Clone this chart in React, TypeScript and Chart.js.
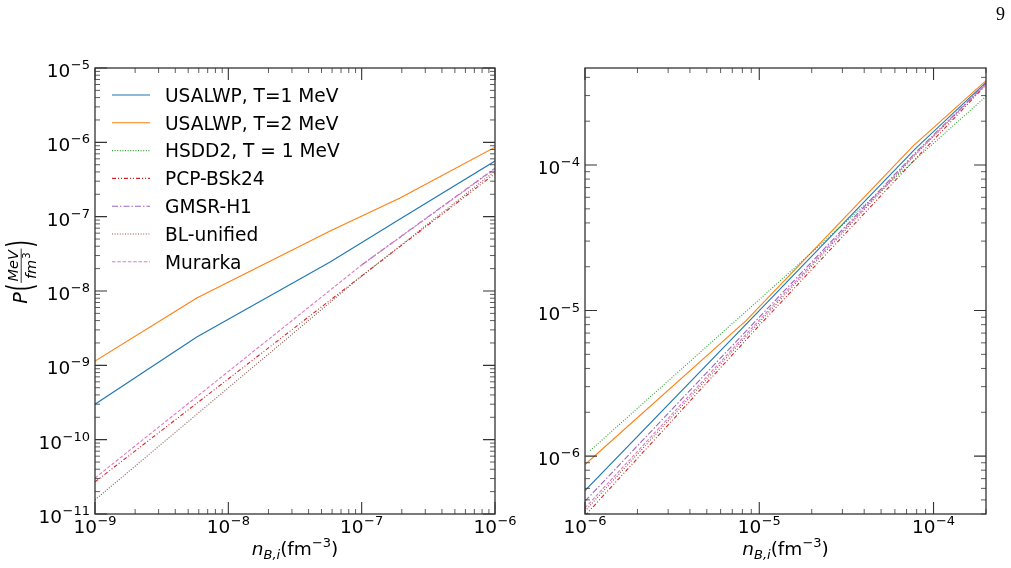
import React, { useEffect, useRef } from "react";
import { Chart, registerables } from "chart.js";

Chart.register(...registerables);

const FONT = "'DejaVu Sans', sans-serif";

// ---------- series meta ----------
const seriesNames = [
  "USALWP, T=1 MeV",
  "USALWP, T=2 MeV",
  "HSDD2, T = 1 MeV",
  "PCP-BSk24",
  "GMSR-H1",
  "BL-unified",
  "Murarka",
];
const seriesColors = ["#1f77b4", "#ff7f0e", "#2ca02c", "#d62728", "#9467bd", "#8c564b", "#e377c2"];
const seriesDashes = [[], [], [1, 1.6], [4, 2, 1, 2, 1, 2], [6, 2, 1.5, 2], [1, 1.6], [3.5, 1.8]];

// ---------- left panel data ----------
const leftUsal1X = [1e-9, 5.8e-9, 5.8e-8, 1.94e-7, 1e-6];
const leftUsal1Y = [3.0e-10, 2.4e-9, 2.45e-8, 9.3e-8, 5.6e-7];
const leftUsal2X = [1e-9, 5.8e-9, 5.8e-8, 1.94e-7, 1e-6];
const leftUsal2Y = [1.14e-9, 8.05e-9, 6.4e-8, 1.78e-7, 8.6e-7];
const leftHsddX: number[] = [];
const leftHsddY: number[] = [];
const leftPcpX = [1e-9, 6.5e-8, 1e-6];
const leftPcpY = [2.7e-11, 8.8e-9, 3.8e-7];
const leftGmsrX = [1e-7, 1e-6];
const leftGmsrY = [2.24e-8, 4.5e-7];
const leftBlX = [1e-9, 9.2e-8, 1e-6];
const leftBlY = [1.55e-11, 1.41e-8, 4.1e-7];
const leftMurX = [1e-9, 1e-7, 1e-6];
const leftMurY = [3.05e-11, 2.24e-8, 4.4e-7];

// ---------- right panel data ----------
const rightUsal1X = [1e-6, 1e-5, 7.9e-5, 2e-4];
const rightUsal1Y = [5.8e-7, 1.0e-5, 1.3e-4, 3.7e-4];
const rightUsal2X = [1e-6, 8.4e-6, 2.63e-5, 7.67e-5, 2e-4];
const rightUsal2Y = [8.75e-7, 8.53e-6, 3.55e-5, 1.36e-4, 3.8e-4];
const rightHsddX = [1.07e-6, 1e-5, 1e-4, 2e-4];
const rightHsddY = [1.09e-6, 1.19e-5, 1.41e-4, 2.96e-4];
const rightPcpX = [1e-6, 1e-5, 8.2e-5, 2e-4];
const rightPcpY = [3.9e-7, 7.9e-6, 1.16e-4, 3.55e-4];
const rightGmsrX = [1e-6, 1e-5, 7.9e-5, 2e-4];
const rightGmsrY = [4.9e-7, 9.0e-6, 1.22e-4, 3.63e-4];
const rightBlX = [1e-6, 1e-5, 8e-5, 2e-4];
const rightBlY = [4.2e-7, 8.3e-6, 1.2e-4, 3.6e-4];
const rightMurX = [1e-6, 1e-5, 7.9e-5, 2e-4];
const rightMurY = [4.4e-7, 8.6e-6, 1.2e-4, 3.6e-4];

// ---------- axes ----------
const leftXRange = [1e-9, 1e-6];
const leftYRange = [1e-11, 1e-5];
const rightXRange = [1e-6, 2e-4];
const rightYRange = [4e-7, 4.64e-4];

function makeSets(xs: number[][], ys: number[][]) {
  const n = xs.length;
  return xs.map((xa, i) => ({
    label: seriesNames[i],
    data: xa.map((x, j) => ({ x, y: ys[i][j] })),
    borderColor: seriesColors[i],
    backgroundColor: seriesColors[i],
    borderDash: seriesDashes[i],
    borderWidth: 1.1,
    pointRadius: 0,
    fill: false,
    tension: 0,
    order: n - i,
  }));
}

function drawPow(ctx: CanvasRenderingContext2D, exp: number, x: number, y: number, align: string) {
  const base = "10";
  const sup = "\u2212" + String(Math.abs(exp));
  ctx.font = `18.5px ${FONT}`;
  const w1 = ctx.measureText(base).width;
  ctx.font = `13px ${FONT}`;
  const w2 = ctx.measureText(sup).width;
  const total = w1 + w2 + 0.5;
  const sx = align === "center" ? x - total / 2 : x - total;
  ctx.textAlign = "left";
  ctx.textBaseline = "alphabetic";
  ctx.fillStyle = "#000";
  ctx.font = `18.5px ${FONT}`;
  ctx.fillText(base, sx, y);
  ctx.font = `13px ${FONT}`;
  ctx.fillText(sup, sx + w1 + 0.5, y - 8);
}

function drawXTitle(ctx: CanvasRenderingContext2D, cx: number, by: number) {
  const parts: [string, string, number][] = [
    ["n", `italic 18.5px ${FONT}`, 0],
    ["B,i", `italic 13px ${FONT}`, 4],
    ["(fm", `18.5px ${FONT}`, 0],
    ["\u22123", `13px ${FONT}`, -8],
    [")", `18.5px ${FONT}`, 0],
  ];
  let total = 0;
  const ws: number[] = [];
  for (const p of parts) {
    ctx.font = p[1];
    const w = ctx.measureText(p[0]).width;
    ws.push(w);
    total += w;
  }
  let x = cx - total / 2;
  ctx.fillStyle = "#000";
  ctx.textAlign = "left";
  ctx.textBaseline = "alphabetic";
  parts.forEach((p, i) => {
    ctx.font = p[1];
    ctx.fillText(p[0], x, by + p[2]);
    x += ws[i];
  });
}

function drawYTitle(ctx: CanvasRenderingContext2D, cx: number, cy: number) {
  ctx.save();
  ctx.translate(cx, cy);
  ctx.rotate(-Math.PI / 2);
  ctx.fillStyle = "#000";
  ctx.strokeStyle = "#000";
  ctx.textAlign = "left";
  ctx.textBaseline = "alphabetic";
  const fP = `italic 19px ${FONT}`;
  const fPar = `19px ${FONT}`;
  const fNum = `italic 14.5px ${FONT}`;
  const fSup = `10px ${FONT}`;
  ctx.font = fP;
  const wP = ctx.measureText("P").width;
  ctx.font = fPar;
  const wPar = ctx.measureText("(").width;
  ctx.font = fNum;
  const wNum = ctx.measureText("MeV").width;
  const wFm = ctx.measureText("fm").width;
  ctx.font = fSup;
  const w3 = ctx.measureText("3").width;
  const wDen = wFm + w3 + 1;
  const wFrac = Math.max(wNum, wDen) + 3;
  const total = wP + wPar * 2 + wFrac + 3;
  let x = -total / 2;
  const s = 1.9;
  const drawParen = (ch: string, px: number) => {
    ctx.save();
    ctx.translate(px, 5.2);
    ctx.scale(1, s);
    ctx.font = fPar;
    ctx.fillText(ch, 0, 0);
    ctx.restore();
  };
  ctx.font = fP;
  ctx.fillText("P", x, 0);
  x += wP + 1;
  drawParen("(", x);
  x += wPar + 1;
  // fraction
  ctx.font = fNum;
  ctx.fillText("MeV", x + (wFrac - wNum) / 2, -9.5);
  ctx.lineWidth = 0.8;
  ctx.beginPath();
  ctx.moveTo(x, -5.8);
  ctx.lineTo(x + wFrac, -5.8);
  ctx.stroke();
  const dx = x + (wFrac - wDen) / 2;
  ctx.font = fNum;
  ctx.fillText("fm", dx, 8.5);
  ctx.font = fSup;
  ctx.fillText("3", dx + wFm + 1, 2.5);
  x += wFrac + 1;
  drawParen(")", x);
  ctx.restore();
}

const panelDeco = {
  id: "panelDeco",
  afterDraw(chart: any, _args: any, opts: any) {
    const ctx: CanvasRenderingContext2D = chart.ctx;
    const xs = chart.scales.x;
    const ys = chart.scales.y;
    const a = chart.chartArea;
    ctx.save();
    const col = "#333";
    const tickAxis = (scale: any, horiz: boolean) => {
      const min = scale.min;
      const max = scale.max;
      const d0 = Math.floor(Math.log10(min)) - 1;
      const d1 = Math.ceil(Math.log10(max)) + 1;
      for (let d = d0; d <= d1; d++) {
        for (let m = 1; m <= 9; m++) {
          const v = m * Math.pow(10, d);
          if (v < min * 0.9999 || v > max * 1.0001) continue;
          const major = m === 1;
          const len = major ? 12 : 5;
          ctx.lineWidth = major ? 1.1 : 0.8;
          ctx.strokeStyle = col;
          const p = scale.getPixelForValue(v);
          ctx.beginPath();
          if (horiz) {
            ctx.moveTo(p, a.bottom);
            ctx.lineTo(p, a.bottom - len);
            ctx.moveTo(p, a.top);
            ctx.lineTo(p, a.top + len);
          } else {
            ctx.moveTo(a.left, p);
            ctx.lineTo(a.left + len, p);
            ctx.moveTo(a.right, p);
            ctx.lineTo(a.right - len, p);
          }
          ctx.stroke();
        }
      }
    };
    tickAxis(xs, true);
    tickAxis(ys, false);
    ctx.lineWidth = 1.3;
    ctx.strokeStyle = col;
    ctx.strokeRect(a.left, a.top, a.right - a.left, a.bottom - a.top);
    for (const e of opts.xExps) {
      drawPow(ctx, e, xs.getPixelForValue(Math.pow(10, e)), a.bottom + 19, "center");
    }
    for (const e of opts.yExps) {
      drawPow(ctx, e, a.left - 5, ys.getPixelForValue(Math.pow(10, e)) + 9, "right");
    }
    drawXTitle(ctx, (a.left + a.right) / 2, a.bottom + 41);
    if (opts.yTitle) drawYTitle(ctx, opts.yTitleX, opts.yTitleY);
    if (opts.legend) {
      chart.data.datasets.forEach((ds: any, i: number) => {
        const cy = opts.legendY0 + i * opts.legendDy;
        ctx.save();
        ctx.strokeStyle = ds.borderColor;
        ctx.lineWidth = ds.borderWidth;
        ctx.setLineDash(ds.borderDash || []);
        ctx.beginPath();
        ctx.moveTo(opts.legendX0, cy);
        ctx.lineTo(opts.legendX0 + 38, cy);
        ctx.stroke();
        ctx.restore();
        ctx.fillStyle = "#000";
        ctx.font = `18.6px ${FONT}`;
        ctx.textAlign = "left";
        ctx.textBaseline = "alphabetic";
        ctx.fillText(ds.label, opts.legendX0 + 53, cy + 6.7);
      });
    }
    if (opts.pageNum) {
      ctx.fillStyle = "#000";
      ctx.font = `18px 'Liberation Serif', serif`;
      ctx.textAlign = "left";
      ctx.textBaseline = "alphabetic";
      ctx.fillText(opts.pageNum, opts.pageX, opts.pageY);
    }
    ctx.restore();
  },
};

function makeConfig(datasets: any[], xr: number[], yr: number[], padding: any, deco: any) {
  return {
    type: "line" as const,
    data: { datasets },
    options: {
      animation: false as const,
      responsive: false,
      devicePixelRatio: 1,
      layout: { padding },
      plugins: {
        legend: { display: false },
        tooltip: { enabled: false },
        panelDeco: deco,
      },
      scales: {
        x: { type: "logarithmic" as const, min: xr[0], max: xr[1], display: false },
        y: { type: "logarithmic" as const, min: yr[0], max: yr[1], display: false },
      },
    },
    plugins: [panelDeco],
  };
}

export default function App() {
  const leftRef = useRef<HTMLCanvasElement>(null);
  const rightRef = useRef<HTMLCanvasElement>(null);

  useEffect(() => {
    const leftSets = makeSets(
      [leftUsal1X, leftUsal2X, leftHsddX, leftPcpX, leftGmsrX, leftBlX, leftMurX],
      [leftUsal1Y, leftUsal2Y, leftHsddY, leftPcpY, leftGmsrY, leftBlY, leftMurY]
    );
    const rightSets = makeSets(
      [rightUsal1X, rightUsal2X, rightHsddX, rightPcpX, rightGmsrX, rightBlX, rightMurX],
      [rightUsal1Y, rightUsal2Y, rightHsddY, rightPcpY, rightGmsrY, rightBlY, rightMurY]
    );
    const left = new Chart(
      leftRef.current as HTMLCanvasElement,
      makeConfig(leftSets, leftXRange, leftYRange, { left: 95, right: 45, top: 68, bottom: 54 }, {
        xExps: [-9, -8, -7, -6],
        yExps: [-11, -10, -9, -8, -7, -6, -5],
        yTitle: true,
        yTitleX: 27,
        yTitleY: 272,
        legend: true,
        legendX0: 112,
        legendY0: 95,
        legendDy: 27.8,
      }) as any
    );
    const right = new Chart(
      rightRef.current as HTMLCanvasElement,
      makeConfig(rightSets, rightXRange, rightYRange, { left: 45, right: 25, top: 68, bottom: 54 }, {
        xExps: [-6, -5, -4],
        yExps: [-6, -5, -4],
        yTitle: false,
        legend: false,
        pageNum: "9",
        pageX: 456,
        pageY: 20,
      }) as any
    );
    return () => {
      left.destroy();
      right.destroy();
    };
  }, []);

  return (
    <div style={{ position: "fixed", left: 0, top: 0, width: 1011, height: 568, background: "#fff" }}>
      <canvas ref={leftRef} width={540} height={568} style={{ position: "absolute", left: 0, top: 0, width: 540, height: 568 }} />
      <canvas ref={rightRef} width={471} height={568} style={{ position: "absolute", left: 540, top: 0, width: 471, height: 568 }} />
    </div>
  );
}
